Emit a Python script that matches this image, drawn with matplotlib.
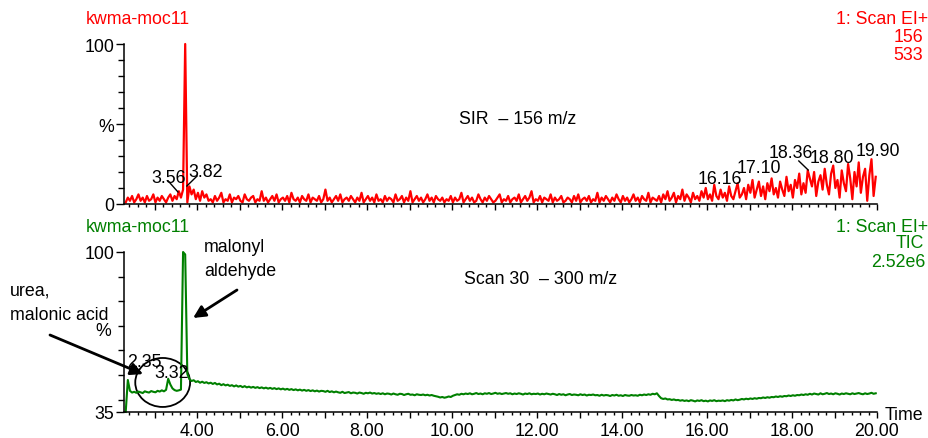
import numpy as np
import matplotlib
matplotlib.use('Agg')
import matplotlib.pyplot as plt
from matplotlib.patches import Ellipse
from matplotlib.ticker import MultipleLocator, FixedLocator, FuncFormatter

plt.rcParams['font.family'] = ['Liberation Sans', 'DejaVu Sans']
plt.rcParams['font.size'] = 12.8

RED = '#ff0000'
GREEN = '#008000'

# scan times: first scan and interval (min)
t_start = 2.32
t_step = 0.05

# SIR 156 m/z, % of max (533)
sir_156 = [
    1, 4, 2, 5, 1, 3, 6, 2, 4, 1, 5, 2, 3, 6, 1, 4, 2, 5, 3, 1,
    4, 6, 2, 5, 3, 8, 4, 9, 100, 1, 11, 6, 9, 3, 7, 2, 8, 4, 6, 2,
    3, 1, 5, 2, 4, 7, 1, 3, 2, 6, 1, 4, 3, 5, 2, 1, 6, 3, 2, 4,
    5, 1, 3, 2, 8, 2, 4, 1, 3, 5, 2, 6, 1, 3, 4, 2, 5, 1, 7, 3,
    2, 4, 1, 5, 3, 2, 6, 1, 4, 3, 2, 5, 1, 3, 9, 2, 4, 1, 3, 5,
    2, 6, 1, 3, 4, 2, 5, 3, 1, 4, 2, 7, 1, 3, 5, 2, 4, 1, 6, 2,
    3, 1, 5, 2, 4, 3, 1, 6, 2, 3, 5, 1, 4, 2, 8, 1, 3, 5, 2, 4,
    1, 3, 6, 2, 4, 1, 5, 3, 2, 4, 1, 3, 2, 5, 1, 4, 2, 3, 7, 1,
    3, 5, 2, 4, 1, 2, 6, 3, 1, 4, 2, 5, 3, 1, 2, 4, 6, 1, 3, 2,
    5, 1, 3, 4, 2, 6, 1, 3, 5, 2, 4, 8, 1, 3, 2, 5, 1, 4, 3, 2,
    6, 1, 4, 2, 3, 5, 1, 2, 4, 3, 1, 5, 2, 6, 1, 3, 4, 2, 5, 1,
    3, 2, 7, 1, 4, 2, 5, 3, 1, 4, 2, 6, 3, 1, 5, 2, 4, 1, 3, 6,
    2, 4, 1, 5, 3, 2, 7, 1, 4, 3,
    2, 5, 1, 6, 3, 8, 2, 4, 7, 1, 5, 3, 9, 2, 6, 4, 1, 7, 3, 5,
    2, 8, 4, 10, 3, 6, 2, 12, 5, 3, 9, 4, 7, 2, 11, 5, 3, 8, 13, 4,
    6, 10, 3, 12, 7, 15, 4, 9, 14, 5, 11, 3, 13, 8, 16, 6, 10, 4, 14, 9,
    5, 17, 8, 12, 4, 15, 10, 19, 6, 13, 7, 21, 16, 11, 20, 5, 14, 18, 9, 22,
    12, 6, 19, 24, 10, 15, 4, 21, 13, 8, 25, 16, 3, 20, 11, 26, 7, 17, 22, 2,
    18, 28, 5, 17,
]

# TIC, % of max (2.52e6)
tic = [
    35, 48, 43.6, 42.9, 43.2, 42.8, 43.3, 43.0, 42.7, 43.4, 43.1, 42.9, 43.5, 43.2, 43.0, 43.6, 43.3, 43.8, 43.4, 44.0,
    48.5, 46.2, 44.6, 43.9, 43.6, 43.8, 44.1, 100, 99, 50.5, 48.3, 47.6, 47.9, 47.2, 47.5, 46.9, 47.3, 46.8, 47.1, 46.6,
    46.9, 46.4, 46.8, 46.2, 46.5, 45.9, 46.3, 45.8, 46.1, 45.6, 45.9, 45.4, 45.8, 45.3, 45.6, 45.1, 45.5, 45.0, 45.3, 44.9,
    45.2, 44.8, 45.1, 44.7, 45.0, 44.6, 44.9, 44.5, 44.8, 44.4, 44.7, 44.3, 44.6, 44.2, 44.5, 44.1, 44.4, 44.0, 44.3, 43.9,
    44.2, 43.8, 44.1, 43.7, 44.0, 43.6, 43.9, 43.5, 43.8, 43.4, 43.7, 43.3, 43.6, 43.5, 43.2, 43.6, 43.1, 43.4, 43.0, 43.3,
    43.0, 42.8, 43.2, 42.7, 42.9, 43.1, 42.6, 42.9, 42.8, 42.5, 42.9, 42.7, 42.4, 42.8, 42.6, 42.9, 42.5, 42.7, 42.4, 42.6,
    42.3, 42.6, 42.2, 42.5, 42.4, 42.1, 42.5, 42.2, 42.0, 42.4, 42.3, 41.9, 42.2, 42.4, 42.0, 42.1, 41.8, 42.2, 42.0, 41.9,
    42.1, 41.8, 42.0, 41.7, 41.9, 41.6, 41.4, 41.2, 40.9, 41.1, 40.8, 41.0, 41.3, 41.1, 41.6, 41.9, 42.2, 42.0, 42.4, 42.2,
    42.5, 42.3, 42.6, 42.2, 42.4, 42.7, 42.3, 42.5, 42.2, 42.6, 42.4, 42.7, 42.3, 42.5, 42.8, 42.4, 42.6, 42.3, 42.5, 42.7,
    42.4, 42.6, 42.2, 42.5, 42.3, 42.6, 42.4, 42.1, 42.5, 42.3, 42.6, 42.2, 42.4, 42.3, 42.5, 42.1, 42.4, 42.2, 42.5, 42.3,
    42.1, 42.4, 42.2, 41.9, 42.3, 42.0, 42.2, 41.8, 42.1, 42.3, 41.9, 42.1, 42.0, 41.8, 42.2, 41.9, 42.1, 41.7, 42.0, 41.9,
    42.1, 41.8, 41.9, 41.6, 42.0, 41.7, 41.9, 41.8, 41.5, 41.9, 41.7, 42.0, 41.6, 41.8, 41.5, 41.9, 41.7, 41.6, 41.9, 41.7,
    41.8, 41.6, 42.0, 41.8, 42.1, 41.9, 42.2, 42.0, 42.4, 42.2, 42.6, 41.5, 40.6, 40.3, 40.5, 40.1, 40.2, 39.9, 40.1, 39.8,
    39.9, 39.6, 39.8, 39.5, 39.7, 39.4, 39.8, 39.6, 39.3, 39.7, 39.5, 39.8, 39.4, 39.6, 39.3, 39.7, 39.5, 39.8, 39.4, 39.6,
    39.5, 39.7, 39.4, 39.8, 39.6, 39.9, 39.7, 40.1, 39.8, 40.0, 40.3, 40.1, 40.4, 40.2, 40.5, 40.3, 40.6, 40.4, 40.7, 40.6,
    40.9, 40.7, 41.0, 40.8, 41.1, 41.0, 41.3, 41.1, 41.4, 41.2, 41.5, 41.4, 41.7, 41.5, 41.8, 41.6, 41.9, 41.8, 42.1, 41.9,
    42.2, 42.0, 42.4, 42.1, 42.5, 42.3, 42.1, 42.6, 42.2, 42.4, 42.7, 42.3, 42.5, 42.2, 42.6, 42.4, 42.1, 42.5, 42.3, 42.6,
    42.4, 42.2, 42.6, 42.3, 42.5, 42.7, 42.4, 42.2, 42.6, 42.3, 42.5, 42.8, 42.4, 42.6,
]

# peak labels (retention times) written by the software
sir_labels = ['3.56', '3.82', '16.16', '17.10', '18.36', '18.80', '19.90']
tic_labels = ['2.35', '3.32']

t_sir = t_start + t_step * np.arange(len(sir_156))
t_tic = t_start + t_step * np.arange(len(tic))

W, H = 929, 439
fig = plt.figure(figsize=(W / 100, H / 100), dpi=100)


def fpos(x, y):
    # pixel position (from top-left) -> figure fraction
    return x / W, 1 - y / H


ax1 = fig.add_axes([124 / W, 1 - 205 / H, (877 - 124) / W, 160 / H])
ax2 = fig.add_axes([124 / W, 1 - 413 / H, (877 - 124) / W, 160 / H])

ax1.plot(t_sir, sir_156, color=RED, lw=1.6, clip_on=False)
ax2.plot(t_tic, tic, color=GREEN, lw=1.5, clip_on=False)

for ax in (ax1, ax2):
    ax.set_xlim(2.28, 20.0)
    for s in ('top', 'right'):
        ax.spines[s].set_visible(False)
    for s in ('left', 'bottom'):
        ax.spines[s].set_linewidth(1.1)
    ax.xaxis.set_major_locator(MultipleLocator(1))
    ax.xaxis.set_minor_locator(MultipleLocator(0.2))
    ax.tick_params(axis='x', which='major', length=4.5, width=1, direction='out')
    ax.tick_params(axis='x', which='minor', length=2.5, width=1, direction='out')
    ax.tick_params(axis='y', which='major', length=6, width=1, pad=1)
    ax.tick_params(axis='y', which='minor', length=4, width=1)

ax1.set_ylim(0, 100)
ax1.set_yticks([0, 50, 100])
ax1.set_yticklabels(['0', '%', '100'])
ax1.yaxis.set_minor_locator(FixedLocator([10, 20, 30, 40, 60, 70, 80, 90]))
ax1.set_xticklabels([])

ax2.set_ylim(35, 100)
ax2.set_yticks([35, 100])
ax2.set_yticklabels(['35', '100'])
ax2.yaxis.set_minor_locator(FixedLocator([40, 50, 60, 70, 80, 90]))
ax2.xaxis.set_major_formatter(FuncFormatter(
    lambda v, p: f'{v:.2f}' if round(v) % 2 == 0 else ''))
ax2.tick_params(axis='x', which='major', pad=3)
fig.text(*fpos(111, 332), '%', va='center', ha='right')

# peak labels, top trace
sir_pos = [(3.34, 13.75), (4.19, 17.5), (16.31, 13.1), (17.22, 20.0),
           (17.98, 29.4), (18.94, 26.25), (20.02, 30.6)]
for lab, (x, y) in zip(sir_labels, sir_pos):
    ax1.text(x, y, lab, ha='center', va='baseline', clip_on=False)
ax1.plot([3.32, 3.55], [14.4, 7.5], color='black', lw=1, clip_on=False)
ax1.plot([4.0, 3.76], [17.5, 11.25], color='black', lw=1, clip_on=False)
ax1.plot([18.16, 18.38], [26.9, 21.25], color='black', lw=1, clip_on=False)

# peak labels, bottom trace
tic_pos = [(2.75, 53.7), (3.41, 49.2)]
for lab, (x, y) in zip(tic_labels, tic_pos):
    ax2.text(x, y, lab, ha='center', va='baseline', clip_on=False)

ax2.add_patch(Ellipse((3.19, 47.0), 1.29, 19.9, fill=False, ec='black',
                      lw=1.3, clip_on=False))

arrow = dict(arrowstyle='-|>', color='black', lw=2, mutation_scale=18,
             shrinkA=0, shrinkB=0)
ax2.annotate('', xy=(2.73, 50.4), xytext=(50, H - 336),
             textcoords='figure pixels', arrowprops=arrow, annotation_clip=False)
ax2.annotate('', xy=(3.906, 73.2), xytext=(237, H - 291),
             textcoords='figure pixels', arrowprops=arrow, annotation_clip=False)

fig.text(*fpos(10, 291), 'urea,', va='center', ha='left')
fig.text(*fpos(10, 316), 'malonic acid', va='center', ha='left')
fig.text(*fpos(204, 248), 'malonyl', va='center', ha='left')
fig.text(*fpos(204, 271), 'aldehyde', va='center', ha='left')

fig.text(*fpos(518, 119), 'SIR  \u2013 156 m/z', va='center', ha='center')
fig.text(*fpos(541, 280), 'Scan 30  \u2013 300 m/z', va='center', ha='center')

# header text
fig.text(*fpos(86, 20), 'kwma-moc11', color=RED, va='center', ha='left')
fig.text(*fpos(928, 20), '1: Scan EI+', color=RED, va='center', ha='right')
fig.text(*fpos(923, 38), '156', color=RED, va='center', ha='right')
fig.text(*fpos(923, 56), '533', color=RED, va='center', ha='right')

fig.text(*fpos(86, 227), 'kwma-moc11', color=GREEN, va='center', ha='left')
fig.text(*fpos(928, 227), '1: Scan EI+', color=GREEN, va='center', ha='right')
fig.text(*fpos(924, 244), 'TIC', color=GREEN, va='center', ha='right')
fig.text(*fpos(925, 263), '2.52e6', color=GREEN, va='center', ha='right')

fig.text(*fpos(885, 415), 'Time', va='center', ha='left')

fig.savefig('out.png', dpi=100)
